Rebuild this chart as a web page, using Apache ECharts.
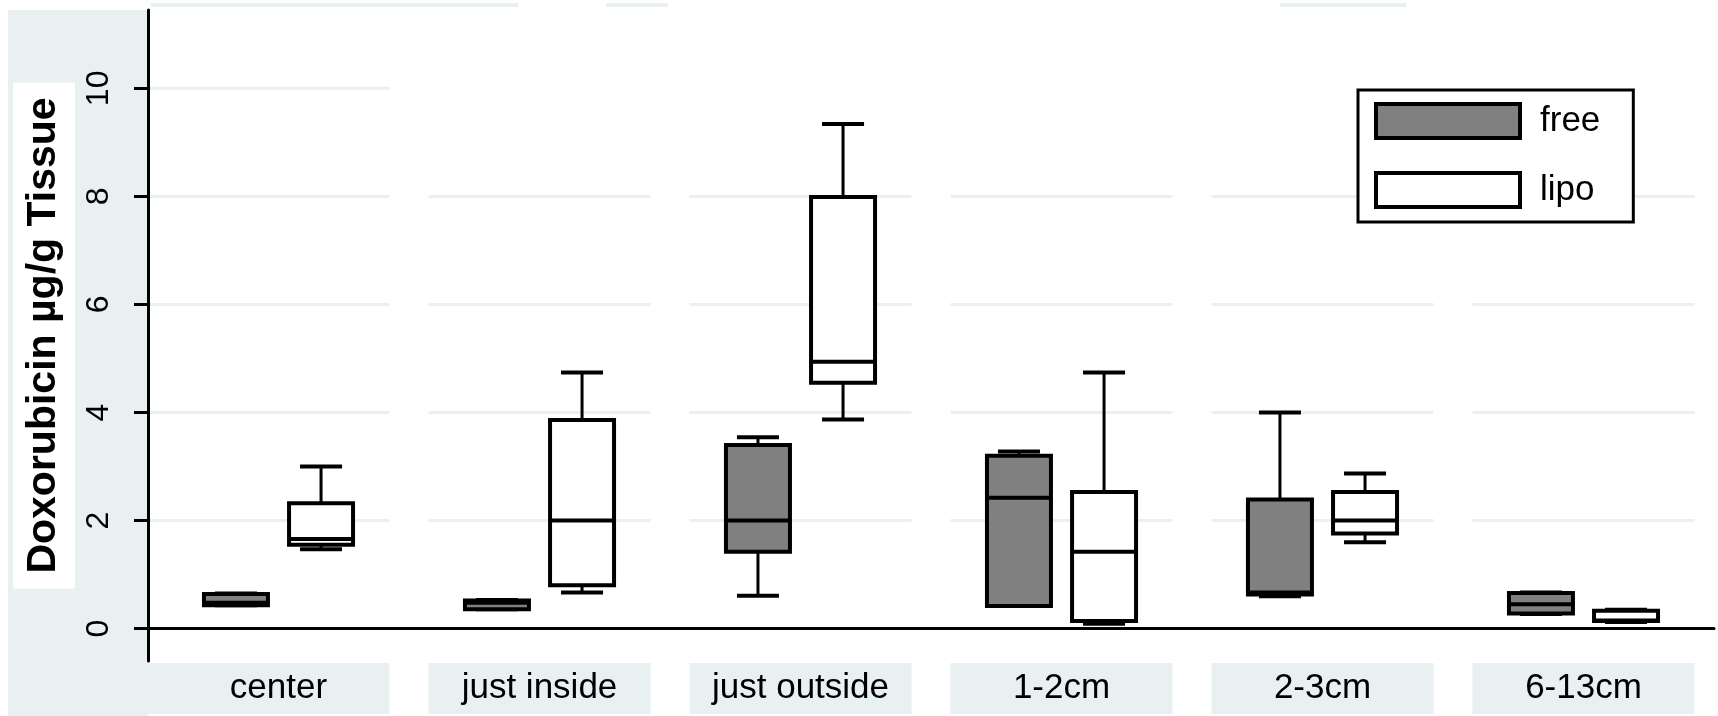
<!DOCTYPE html>
<html><head><meta charset="utf-8">
<script src="https://cdn.jsdelivr.net/npm/echarts@6/dist/echarts.min.js"></script>
<style>html,body{margin:0;padding:0;background:#fff;}#chart{width:1718px;height:716px;}</style>
</head><body><div id="chart"></div>
<script>
const categories = ['center', 'just inside', 'just outside', '1-2cm', '2-3cm', '6-13cm'];
// each box: [min, Q1, median, Q3, max]
const freeBoxes = [
  [0.43, 0.43, 0.48, 0.64, 0.65],
  [0.36, 0.36, 0.48, 0.52, 0.53],
  [0.61, 1.42, 2.00, 3.40, 3.54],
  [0.42, 0.42, 2.42, 3.20, 3.28],
  [0.60, 0.63, 0.67, 2.39, 4.00],
  [0.27, 0.28, 0.45, 0.66, 0.67]
];
const lipoBoxes = [
  [1.47, 1.55, 1.66, 2.32, 3.00],
  [0.67, 0.80, 2.00, 3.86, 4.74],
  [3.87, 4.55, 4.94, 7.99, 9.34],
  [0.09, 0.14, 1.42, 2.53, 4.74],
  [1.60, 1.76, 2.00, 2.53, 2.87],
  [0.12, 0.14, 0.15, 0.33, 0.35]
];
const yTicks = [0, 2, 4, 6, 8, 10];
const seriesNames = ['free', 'lipo'];
const yTitle = 'Doxorubicin µg/g Tissue';

const LIGHT = '#e8f0f2';
const FONT = 'Liberation Sans';

function boxRenderer(offset, fill) {
  return function (params, api) {
    const ci = api.value(0);
    const bw = api.size([1, 0])[0];
    const cx = api.coord([ci, 0])[0] + offset * bw;
    const y = (d) => api.coord([ci, api.value(d)])[1];
    const yMin = y(1), yQ1 = y(2), yMed = y(3), yQ3 = y(4), yMax = y(5);
    const half = bw * 0.1226, cap = bw * 0.0805;
    const line = (x1, y1, x2, y2, w) => ({ type: 'line', shape: { x1, y1, x2, y2 }, style: { stroke: '#000', lineWidth: w } });
    return {
      type: 'group', children: [
        line(cx, yQ3, cx, yMax, 3),
        line(cx - cap, yMax, cx + cap, yMax, 4),
        line(cx, yQ1, cx, yMin, 3),
        line(cx - cap, yMin, cx + cap, yMin, 4),
        { type: 'rect', shape: { x: cx - half, y: yQ3, width: 2 * half, height: yQ1 - yQ3 }, style: { fill: fill, stroke: '#000', lineWidth: 4 } },
        line(cx - half, yMed, cx + half, yMed, 4)
      ]
    };
  };
}

function gridRenderer(params, api) {
  const ci = api.value(0);
  const bw = api.size([1, 0])[0];
  const cx = api.coord([ci, 0])[0];
  let x1 = cx - bw * 0.425, x2 = cx + bw * 0.425;
  if (ci === 0) x1 = params.coordSys.x;
  const children = yTicks.filter(t => t < 10 || ci === 0).map(t => {
    const yy = api.coord([ci, t])[1];
    return { type: 'line', shape: { x1: x1, y1: yy, x2: x2, y2: yy }, style: { stroke: LIGHT, lineWidth: 3 } };
  });
  return { type: 'group', children: children };
}

const toData = (boxes) => boxes.map((b, i) => [i].concat(b));

const chart = echarts.init(document.getElementById('chart'), null, { renderer: 'canvas' });
chart.setOption({
  animation: false,
  backgroundColor: '#fff',
  grid: { left: 148, right: 4, top: 10, bottom: 55, containLabel: false, outerBoundsMode: 'none' },
  graphic: [
    { type: 'rect', shape: { x: 8, y: 10, width: 140, height: 706 }, style: { fill: LIGHT }, z: -1, silent: true },
    { type: 'rect', shape: { x: 148, y: 663, width: 30, height: 51 }, style: { fill: LIGHT }, z: -1, silent: true },
    { type: 'rect', shape: { x: 151, y: 3, width: 367, height: 4 }, style: { fill: LIGHT }, z: -1, silent: true },
    { type: 'rect', shape: { x: 606, y: 3, width: 62, height: 4 }, style: { fill: LIGHT }, z: -1, silent: true },
    { type: 'rect', shape: { x: 1280, y: 3, width: 126, height: 4 }, style: { fill: LIGHT }, z: -1, silent: true }
  ],
  legend: {
    orient: 'vertical', left: 1358, top: 90,
    padding: [12, 33, 13, 16], itemGap: 31, itemWidth: 144, itemHeight: 34,
    borderColor: '#000', borderWidth: 3, backgroundColor: '#fff',
    selectedMode: false,
    textStyle: { fontSize: 35, fontFamily: FONT, color: '#000', lineHeight: 34, padding: [0, 0, 0, 15] },
    data: [
      { name: seriesNames[0], icon: 'rect', itemStyle: { color: '#808080', borderColor: '#000', borderWidth: 4 } },
      { name: seriesNames[1], icon: 'rect', itemStyle: { color: '#ffffff', borderColor: '#000', borderWidth: 4 } }
    ]
  },
  xAxis: {
    type: 'category', data: categories, boundaryGap: true, z: 5,
    axisLine: { lineStyle: { color: '#000', width: 3 } },
    axisTick: { show: false },
    splitLine: { show: false },
    axisLabel: {
      interval: 0, margin: 2, fontSize: 35, fontFamily: FONT, color: '#000',
      width: 222, height: 51, lineHeight: 51, backgroundColor: LIGHT, align: 'center'
    }
  },
  yAxis: {
    type: 'value', min: -0.6, max: 11.45, z: 5,
    axisLine: { show: true, lineStyle: { color: '#000', width: 3 } },
    axisTick: { show: true, length: 14, lineStyle: { color: '#000', width: 3 }, customValues: yTicks },
    axisLabel: { customValues: yTicks, rotate: 90, margin: 33, fontSize: 32, fontFamily: FONT, color: '#000' },
    splitLine: { show: false },
    name: yTitle, nameLocation: 'middle', nameRotate: 90, nameGap: 68,
    nameTextStyle: { fontSize: 41, fontWeight: 'bold', fontFamily: FONT, color: '#000', backgroundColor: '#fff', padding: [11, 15], lineHeight: 40 }
  },
  series: [
    { type: 'custom', name: '_grid', renderItem: gridRenderer, data: categories.map((c, i) => [i, 0]), encode: { x: 0, y: 1 }, z: 1, silent: true, clip: false },
    { type: 'custom', name: seriesNames[0], renderItem: boxRenderer(-0.163, '#808080'), data: toData(freeBoxes), encode: { x: 0, y: [1, 2, 3, 4, 5] }, itemStyle: { color: '#808080' }, z: 3, clip: false },
    { type: 'custom', name: seriesNames[1], renderItem: boxRenderer(0.163, '#ffffff'), data: toData(lipoBoxes), encode: { x: 0, y: [1, 2, 3, 4, 5] }, itemStyle: { color: '#ffffff' }, z: 3, clip: false }
  ]
});
</script></body></html>
